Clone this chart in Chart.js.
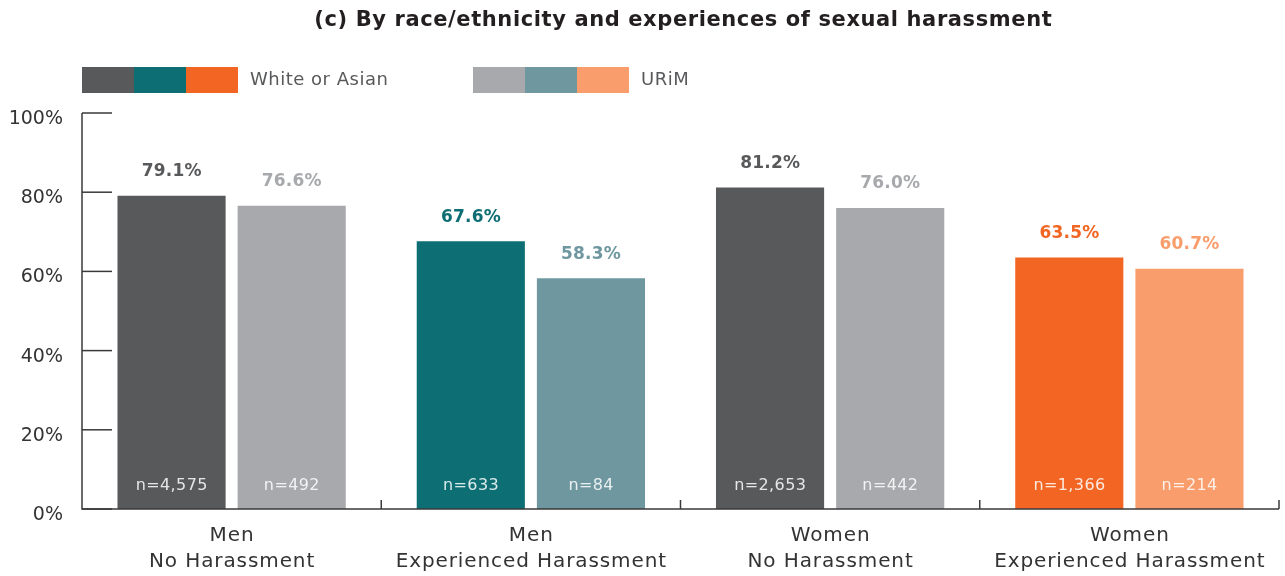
<!DOCTYPE html>
<html>
<head>
<meta charset="utf-8">
<style>
  html, body { margin: 0; padding: 0; background: #fff; }
  #wrap { width: 1285px; height: 576px; }
</style>
<script src="https://cdn.jsdelivr.net/npm/chart.js@4/dist/chart.umd.min.js"></script>
</head>
<body>
<div id="wrap"><canvas id="raceChart" width="1285" height="576"></canvas></div>
<script>
// categorias del eje X (dos lineas cada una)
const categorias = [
  ['Men', 'No Harassment'],
  ['Men', 'Experienced Harassment'],
  ['Women', 'No Harassment'],
  ['Women', 'Experienced Harassment']
];

// porcentajes por grupo
const blancoAsiatico = [79.1, 67.6, 81.2, 63.5];
const urim = [76.6, 58.3, 76.0, 60.7];

// tamaños de muestra
const nBlanco = ['n=4,575', 'n=633', 'n=2,653', 'n=1,366'];
const nUrim = ['n=492', 'n=84', 'n=442', 'n=214'];

const ticksY = [0, 20, 40, 60, 80, 100];
const leyenda = ['White or Asian', 'URiM'];

// colores por barra
const coloresBlanco = ['#58595b', '#0d6e74', '#58595b', '#f26522'];
const coloresUrim = ['#a7a9ac', '#6f97a0', '#a7a9ac', '#f89d6b'];

const FUENTE = '"DejaVu Sans", sans-serif';

function texto(ctx, t, x, y, font, color, align, espacio) {
  ctx.font = font;
  ctx.fillStyle = color;
  ctx.textAlign = align;
  ctx.textBaseline = 'middle';
  ctx.letterSpacing = (espacio || 0) + 'px';
  const dx = align === 'center' ? (espacio || 0) / 2 : 0;
  ctx.fillText(t, x + dx, y);
}

// titulo, leyenda, etiquetas y marcas de los ejes
const extras = {
  id: 'extras',
  afterDraw(chart) {
    const ctx = chart.ctx;
    const area = chart.chartArea;
    const x = chart.scales.x;
    const y = chart.scales.y;
    ctx.save();

    // titulo
    texto(ctx, '(c) By race/ethnicity and experiences of sexual harassment', 683, 21,
      'bold 21px ' + FUENTE, '#231f20', 'center', 0.6);

    // leyenda: tres cuadros por grupo
    const grupos = [
      { x0: area.left, colores: [coloresBlanco[0], coloresBlanco[1], coloresBlanco[3]] },
      { x0: 473, colores: [coloresUrim[0], coloresUrim[1], coloresUrim[3]] }
    ];
    grupos.forEach((g, gi) => {
      g.colores.forEach((c, i) => {
        ctx.fillStyle = c;
        ctx.fillRect(g.x0 + i * 52, 67, 52, 26);
      });
      texto(ctx, leyenda[gi], g.x0 + 168, 80, '18px ' + FUENTE, '#58595b', 'left', 0.5);
    });

    // ejes
    ctx.strokeStyle = '#3a3a3a';
    ctx.lineWidth = 1.5;
    ctx.beginPath();
    ctx.moveTo(area.left, area.top);
    ctx.lineTo(area.left, area.bottom);
    ctx.lineTo(area.right, area.bottom);
    ctx.stroke();

    // marcas del eje Y hacia dentro y sus etiquetas
    ticksY.forEach(v => {
      const py = y.getPixelForValue(v);
      ctx.beginPath();
      ctx.moveTo(area.left, py);
      ctx.lineTo(area.left + 30, py);
      ctx.stroke();
      texto(ctx, v + '%', area.left - 19, py + 6, '19px ' + FUENTE, '#333', 'right', 0);
    });

    // separadores entre categorias y etiquetas del eje X
    const ancho = (area.right - area.left) / categorias.length;
    categorias.forEach((lineas, i) => {
      const cx = x.getPixelForValue(i);
      const px = cx + ancho / 2;
      ctx.beginPath();
      ctx.moveTo(px, area.bottom);
      ctx.lineTo(px, area.bottom - 9);
      ctx.stroke();
      lineas.forEach((l, j) => {
        texto(ctx, l, cx, area.bottom + 27 + j * 26, '20px ' + FUENTE, '#333', 'center', 0.9);
      });
    });

    // etiquetas de valor y de n
    const series = [
      { vals: blancoAsiatico, n: nBlanco, colores: coloresBlanco },
      { vals: urim, n: nUrim, colores: coloresUrim }
    ];
    series.forEach((s, di) => {
      const meta = chart.getDatasetMeta(di);
      meta.data.forEach((bar, i) => {
        texto(ctx, s.vals[i].toFixed(1) + '%', bar.x, bar.y - 24,
          'bold 17px ' + FUENTE, s.colores[i], 'center', 0.2);
        texto(ctx, s.n[i], bar.x, area.bottom - 23,
          '16px ' + FUENTE, 'rgba(255,255,255,0.85)', 'center', 0.4);
      });
    });
    ctx.restore();
  }
};

new Chart(document.getElementById('raceChart').getContext('2d'), {
  type: 'bar',
  data: {
    labels: categorias,
    datasets: [
      { label: leyenda[0], data: blancoAsiatico, backgroundColor: coloresBlanco },
      { label: leyenda[1], data: urim, backgroundColor: coloresUrim }
    ]
  },
  options: {
    responsive: false,
    animation: false,
    categoryPercentage: 0.803,
    barPercentage: 0.9,
    layout: { padding: { top: 113, right: 6, left: 0, bottom: 0 } },
    plugins: {
      legend: { display: false },
      tooltip: { enabled: false }
    },
    scales: {
      x: {
        grid: { display: false, drawTicks: false },
        border: { display: false },
        ticks: { display: false },
        afterFit(s) { s.height = 67; }
      },
      y: {
        min: 0,
        max: 100,
        grid: { display: false, drawTicks: false },
        border: { display: false },
        afterBuildTicks(s) { s.ticks = ticksY.map(v => ({ value: v })); },
        ticks: { display: false },
        afterFit(s) { s.width = 82; }
      }
    }
  },
  plugins: [extras]
});
</script>
</body>
</html>
